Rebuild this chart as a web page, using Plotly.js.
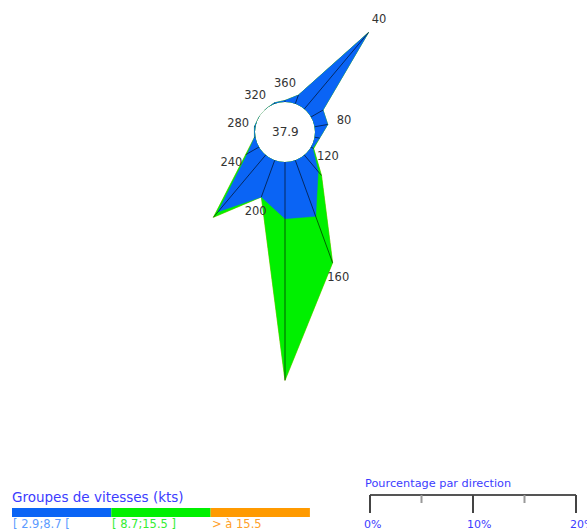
<!DOCTYPE html>
<html><head><meta charset="utf-8">
<script src="https://cdn.plot.ly/plotly-3.0.1.min.js"></script>
<style>
html,body{margin:0;padding:0;width:587px;height:530px;overflow:hidden;background:#fff}
#plot{position:absolute;left:0;top:-130px;width:587px;height:660px}
</style>
</head><body><div id="plot"></div>
<script>
// ---- data ----
const directions = [0,20,40,60,80,100,120,140,160,180,200,220,240,260,280,300,320,340];
const calmPct = 37.9;
const groupNames = ["[ 2.9;8.7 [", "[ 8.7;15.5 ]", "> à 15.5"];
const groupLow  = [0.15,0.9,9.7,1.35,1.3,0.5,0.2,2.1,5.8,5.5,3.8,7.2,1.3,0.1,0.1,0,0,0.1];
const groupMid  = [0,0,0,0,0,0,0.1,0.5,4.8,15.7,0,0.7,0.2,0,0,0,0,0];
const groupHigh = [0,0,0,0,0,0,0,0,0,0,0,0,0,0,0,0,0,0];
const labelDirections = [40,80,120,160,200,240,280,320,360];
const scaleTicks = [0,5,10,15,20];
const scaleTickLabels = {0:"0%",10:"10%",20:"20%"};

// ---- styles / geometry ----
const colors = ["#0a64f5","#00f000","#ff9a00"];
const labelColors = ["#5b9bff","#33ee33","#ffa028"];
const W = 587, H = 660, TOP = 130;
const cx = 285, cy = 132;
const holePx = 30, pxPerPct = 10.3, rMax = 22;
const Rpx = holePx + rMax * pxPerPct;
const fx = x => x / W;
const fy = y => 1 - (y + TOP) / H;

const groups = [groupLow, groupMid, groupHigh];
const cumul = [];
let run = directions.map(() => 0);
groups.forEach(g => { run = run.map((v, i) => v + g[i]); cumul.push(run.slice()); });
const outer = cumul[cumul.length - 1];

const traces = [];
for (let k = cumul.length - 1; k >= 0; k--) {
  traces.push({
    type: 'scatterpolar', mode: 'lines', fill: 'toself',
    r: cumul[k].concat([cumul[k][0]]),
    theta: directions.concat([directions[0]]),
    fillcolor: colors[k], line: {color: colors[k], width: 0.5},
    hoverinfo: 'skip', showlegend: false
  });
}
// radial lines
const lr = [], lt = [];
directions.forEach((d, i) => { lr.push(0, outer[i], null); lt.push(d, d, null); });
traces.push({type:'scatterpolar', mode:'lines', r: lr, theta: lt,
  line:{color:'#000', width:0.6}, hoverinfo:'skip', showlegend:false, connectgaps:false});
// direction labels
traces.push({type:'scatterpolar', mode:'text',
  r: labelDirections.map(d => Math.max(outer[directions.indexOf(d % 360)] + 1.6, 1.5)),
  theta: labelDirections,
  text: labelDirections.map(String),
  textfont:{family:'DejaVu Sans', size:11.5, color:'#333'},
  textposition:'middle center', cliponaxis:false, hoverinfo:'skip', showlegend:false});

const shapes = [], annotations = [];
annotations.push({xref:'paper', yref:'paper', x:fx(cx), y:fy(cy), text:String(calmPct),
  showarrow:false, xanchor:'center', yanchor:'middle',
  font:{family:'DejaVu Sans', size:12, color:'#333'}});

// speed-group legend
annotations.push({xref:'paper', yref:'paper', x:fx(10), y:fy(497), text:'Groupes de vitesses (kts)',
  showarrow:false, xanchor:'left', yanchor:'middle',
  font:{family:'DejaVu Sans', size:13.5, color:'#3c3cff'}});
const barW = 99.3, barX0 = 12;
groupNames.forEach((name, i) => {
  shapes.push({type:'rect', xref:'paper', yref:'paper',
    x0:fx(barX0 + i*barW), x1:fx(barX0 + (i+1)*barW), y0:fy(517), y1:fy(508),
    fillcolor:colors[i], line:{width:0}});
  annotations.push({xref:'paper', yref:'paper', x:fx(barX0 + i*barW - 1), y:fy(524), text:name,
    showarrow:false, xanchor:'left', yanchor:'middle',
    font:{family:'DejaVu Sans', size:11.5, color:labelColors[i]}});
});

// percentage scale
const sx0 = 370, sy = 495;
annotations.push({xref:'paper', yref:'paper', x:fx(363), y:fy(483), text:'Pourcentage par direction',
  showarrow:false, xanchor:'left', yanchor:'middle',
  font:{family:'DejaVu Sans', size:11.3, color:'#3c3cff'}});
shapes.push({type:'line', xref:'paper', yref:'paper', x0:fx(sx0), x1:fx(sx0 + 20*pxPerPct),
  y0:fy(sy), y1:fy(sy), line:{color:'#555', width:1.8}});
scaleTicks.forEach(t => {
  const major = (t % 10 === 0);
  const x = sx0 + t * pxPerPct;
  shapes.push({type:'line', xref:'paper', yref:'paper', x0:fx(x), x1:fx(x),
    y0:fy(sy), y1:fy(major ? 513 : 503), line:{color: major ? '#444' : '#999', width: 2}});
  if (scaleTickLabels[t]) annotations.push({xref:'paper', yref:'paper', x:fx(x - 8), y:fy(524),
    text:scaleTickLabels[t], showarrow:false, xanchor:'left', yanchor:'middle',
    font:{family:'DejaVu Sans', size:11, color:'#3c3cff'}});
});

const layout = {
  width: W, height: H, margin:{l:0,r:0,t:0,b:0},
  paper_bgcolor:'rgba(0,0,0,0)', plot_bgcolor:'rgba(0,0,0,0)', showlegend:false,
  polar:{
    domain:{x:[fx(cx - Rpx), fx(cx + Rpx)], y:[fy(cy + Rpx), fy(cy - Rpx)]},
    hole: holePx / Rpx, bgcolor:'rgba(0,0,0,0)',
    radialaxis:{visible:false, range:[0, rMax], showgrid:false, showline:false},
    angularaxis:{visible:false, rotation:90, direction:'clockwise', showgrid:false, showline:false}
  },
  shapes: shapes, annotations: annotations
};
Plotly.newPlot('plot', traces, layout, {displayModeBar:false, staticPlot:true});
</script>
</body></html>
